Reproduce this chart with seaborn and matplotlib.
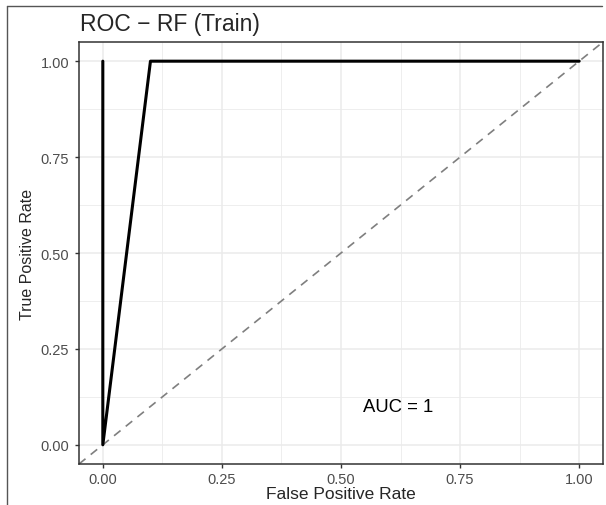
import seaborn as sns
import matplotlib.pyplot as plt
import pandas as pd
from matplotlib.lines import Line2D

# ROC points (path order as drawn)
fpr = [0.0, 0.0, 0.1, 1.0]
tpr = [1.0, 0.0, 1.0, 1.0]
ticks = [0.0, 0.25, 0.5, 0.75, 1.0]
tick_labels = ['0.00', '0.25', '0.50', '0.75', '1.00']
auc_text = 'AUC = 1'

df = pd.DataFrame({'fpr': fpr, 'tpr': tpr})

sns.set_style('white')
plt.rcParams['font.family'] = ['Liberation Sans', 'DejaVu Sans']

fig = plt.figure(figsize=(6.06, 5.06), dpi=100)
W, H = 606, 506
ax = fig.add_axes([79 / W, (H - 465) / H, (603 - 79) / W, (465 - 43) / H])

# grid (ggplot theme_bw look)
for v in [0.125, 0.375, 0.625, 0.875]:
    ax.axvline(v, color='#EBEBEB', lw=0.6, zorder=0)
    ax.axhline(v, color='#EBEBEB', lw=0.6, zorder=0)
for v in ticks:
    ax.axvline(v, color='#EBEBEB', lw=1.1, zorder=0)
    ax.axhline(v, color='#EBEBEB', lw=1.1, zorder=0)

ax.axline((0, 0), slope=1, color='#7F7F7F', lw=1.2, ls=(0, (5, 4)), zorder=1)
sns.lineplot(data=df, x='fpr', y='tpr', sort=False, estimator=None,
             color='black', lw=2.2, ax=ax, zorder=2)

ax.text(0.62, 0.1, auc_text, ha='center', va='center', fontsize=13.3, color='black')

ax.set_xlim(-0.05, 1.05)
ax.set_ylim(-0.05, 1.05)
ax.set_xticks(ticks)
ax.set_xticklabels(tick_labels)
ax.set_yticks(ticks)
ax.set_yticklabels(tick_labels)
ax.tick_params(axis='both', length=3, width=1, color='#333333',
               labelcolor='#4D4D4D', labelsize=10.5, pad=4, direction='out')
ax.tick_params(axis='x', pad=3)
ax.tick_params(axis='both', bottom=True, left=True)
for s in ax.spines.values():
    s.set_color('#333333')
    s.set_linewidth(1.1)

ax.set_xlabel('False Positive Rate', fontsize=12.5, labelpad=0)
ax.set_ylabel('True Positive Rate', fontsize=11.5, labelpad=4)

fig.text(80 / W, 1 - 31 / H, 'ROC \u2212 RF (Train)', fontsize=16.5,
         ha='left', va='baseline')

# outer frame of the screenshot
fig.add_artist(Line2D([7 / W, 7 / W], [0, 1 - 7 / H], color='#555555', lw=1,
                      transform=fig.transFigure))
fig.add_artist(Line2D([7 / W, 602 / W], [1 - 7 / H, 1 - 7 / H], color='#555555', lw=1,
                      transform=fig.transFigure))

fig.savefig('out.png', dpi=100)
